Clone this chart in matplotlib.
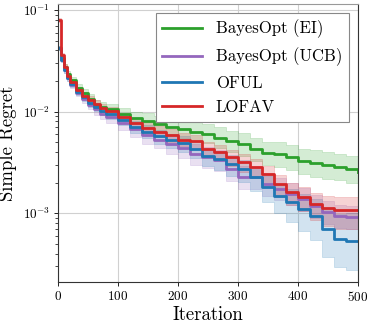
import numpy as np
import matplotlib
matplotlib.use("Agg")
import matplotlib.pyplot as plt

plt.rcParams["font.family"] = "serif"
plt.rcParams["font.serif"] = ["cmr10"]
plt.rcParams["mathtext.fontset"] = "cm"
plt.rcParams["axes.unicode_minus"] = False
plt.rcParams["axes.formatter.use_mathtext"] = True

iters = [0, 5, 10, 15, 20, 30, 40, 50, 60, 70, 80, 100, 120, 140, 160, 180,
         200, 220, 240, 260, 280, 300, 320, 340, 360, 380, 400, 420, 440,
         460, 480, 500]

# mean simple regret
ei_mean = [0.0424, 0.0338, 0.0276, 0.0236, 0.0206, 0.0172, 0.0154, 0.0134,
           0.0117, 0.0112, 0.0105, 0.00956, 0.00873, 0.00816, 0.00763,
           0.00713, 0.00667, 0.00637, 0.00608, 0.00556, 0.00508, 0.00475,
           0.00424, 0.00388, 0.00379, 0.00354, 0.00323, 0.00309, 0.00296,
           0.00283, 0.00270, 0.00252]
ucb_mean = [0.0424, 0.0323, 0.0258, 0.0215, 0.0184, 0.0154, 0.0134, 0.0117,
            0.0105, 0.00956, 0.00893, 0.00780, 0.00667, 0.00582, 0.00531,
            0.00475, 0.00434, 0.00379, 0.00354, 0.00331, 0.00270, 0.00225,
            0.00225, 0.00192, 0.00172, 0.00154, 0.00137, 0.00117, 0.00102,
            0.000935, 0.000914, 0.000914]
oful_mean = [0.0424, 0.0323, 0.0258, 0.0215, 0.0188, 0.0157, 0.0140, 0.0122,
             0.0112, 0.0102, 0.00956, 0.00835, 0.00713, 0.00637, 0.00569,
             0.00520, 0.00486, 0.00424, 0.00362, 0.00338, 0.00302, 0.00270,
             0.00225, 0.00180, 0.00147, 0.00128, 0.00109, 0.000935, 0.000697,
             0.000556, 0.000531, 0.000531]
lofav_mean = [0.0798, 0.0362, 0.0276, 0.0225, 0.0197, 0.0164, 0.0144, 0.0131,
              0.0120, 0.0109, 0.0102, 0.00893, 0.00780, 0.00697, 0.00637,
              0.00582, 0.00531, 0.00508, 0.00424, 0.00396, 0.00354, 0.00316,
              0.00283, 0.00241, 0.00192, 0.00161, 0.00144, 0.00123, 0.00112,
              0.00107, 0.00107, 0.00107]

# band half widths, in decades (upper, lower)
ei_up = [0.02, 0.02, 0.03, 0.03, 0.03, 0.035, 0.04, 0.045, 0.05, 0.05, 0.05,
         0.06, 0.06, 0.07, 0.07, 0.08, 0.08, 0.09, 0.09, 0.10, 0.10, 0.11,
         0.11, 0.11, 0.12, 0.12, 0.12, 0.13, 0.13, 0.13, 0.13, 0.13]
ei_dn = ei_up
ucb_up = [0.02, 0.02, 0.03, 0.03, 0.03, 0.035, 0.04, 0.045, 0.05, 0.055, 0.06,
          0.07, 0.07, 0.08, 0.08, 0.09, 0.09, 0.10, 0.10, 0.10, 0.11, 0.11,
          0.11, 0.11, 0.11, 0.11, 0.11, 0.11, 0.11, 0.11, 0.11, 0.11]
ucb_dn = [0.02, 0.02, 0.03, 0.03, 0.03, 0.035, 0.04, 0.045, 0.05, 0.055, 0.06,
          0.07, 0.07, 0.08, 0.08, 0.09, 0.09, 0.10, 0.10, 0.10, 0.11, 0.11,
          0.11, 0.11, 0.11, 0.11, 0.12, 0.12, 0.12, 0.12, 0.12, 0.12]
oful_up = [0.02, 0.02, 0.03, 0.03, 0.03, 0.035, 0.04, 0.04, 0.04, 0.045, 0.05,
           0.05, 0.05, 0.06, 0.06, 0.06, 0.07, 0.07, 0.08, 0.08, 0.09, 0.09,
           0.10, 0.11, 0.12, 0.13, 0.15, 0.17, 0.20, 0.25, 0.28, 0.28]
oful_dn = [0.02, 0.02, 0.03, 0.03, 0.03, 0.035, 0.04, 0.04, 0.04, 0.045, 0.05,
           0.05, 0.06, 0.06, 0.07, 0.07, 0.08, 0.08, 0.09, 0.10, 0.11, 0.12,
           0.13, 0.15, 0.17, 0.19, 0.21, 0.24, 0.27, 0.28, 0.28, 0.28]
lofav_up = [0.02, 0.02, 0.03, 0.03, 0.03, 0.03, 0.03, 0.035, 0.04, 0.04, 0.04,
            0.04, 0.05, 0.05, 0.05, 0.06, 0.06, 0.06, 0.07, 0.07, 0.07, 0.08,
            0.08, 0.08, 0.09, 0.09, 0.10, 0.11, 0.12, 0.13, 0.13, 0.13]
lofav_dn = [0.02, 0.02, 0.03, 0.03, 0.03, 0.03, 0.03, 0.035, 0.04, 0.04, 0.04,
            0.04, 0.05, 0.05, 0.05, 0.06, 0.06, 0.06, 0.07, 0.07, 0.08, 0.09,
            0.10, 0.11, 0.12, 0.13, 0.14, 0.16, 0.18, 0.19, 0.19, 0.19]

series = [
    ("BayesOpt (EI)", ei_mean, ei_up, ei_dn, "#2ca02c"),
    ("BayesOpt (UCB)", ucb_mean, ucb_up, ucb_dn, "#9467bd"),
    ("OFUL", oful_mean, oful_up, oful_dn, "#1f77b4"),
    ("LOFAV", lofav_mean, lofav_up, lofav_dn, "#d62728"),
]

fig = plt.figure(figsize=(3.74, 3.26), dpi=100)
ax = fig.add_axes([0.154, 0.135, 0.803, 0.853])

for label, mean, up, dn, color in series:
    m = np.array(mean)
    hi = m * 10 ** np.array(up)
    lo = m / 10 ** np.array(dn)
    ax.fill_between(iters, lo, hi, step="post", color=color, alpha=0.2, lw=0.6)
    ax.plot(iters, m, drawstyle="steps-post", color=color, lw=2.0, label=label)

ax.set_yscale("log")
ax.set_xlim(0, 500)
ax.set_ylim(2.1e-4, 0.115)
ax.set_xticks([0, 100, 200, 300, 400, 500])
ax.grid(True, which="major", color="#d0d0d0", lw=0.8)
ax.set_axisbelow(True)
ax.tick_params(labelsize=9.5, length=3, width=0.6, pad=2.5)
ax.tick_params(which="minor", length=2, width=0.5)
ax.set_xlabel("Iteration", fontsize=13.5, labelpad=2)
ax.set_ylabel("Simple Regret", fontsize=13.5, labelpad=4)
for side in ["left", "bottom", "right"]:
    ax.spines[side].set_color("#333333")
ax.spines["top"].set_color("#999999")

leg = ax.legend(loc="upper right", fontsize=12, fancybox=False, framealpha=1,
                edgecolor="#888888", handlelength=2.4, labelspacing=0.55,
                borderaxespad=0.55)
leg.get_frame().set_linewidth(0.8)

fig.savefig("out.png", dpi=100)
